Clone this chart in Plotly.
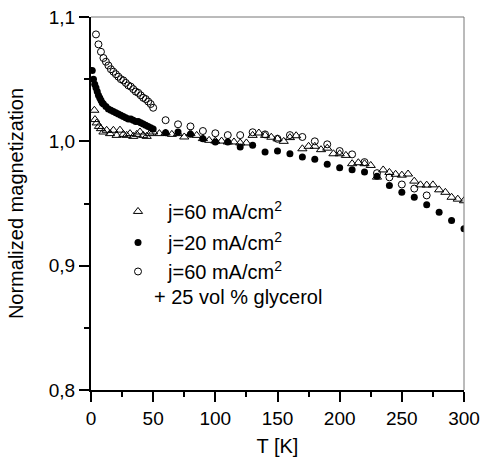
import plotly.graph_objects as go

# j=60 mA/cm2 (open triangles)
t_tri = [2.7, 3.2, 4.6, 6.4, 8, 10, 12.6, 15.3, 18, 20.6, 23.3, 26, 28.7, 31.4, 34, 36.8, 39.4, 42, 44.8, 47.4,
         50, 55, 60, 65, 70, 75, 80, 85, 90, 95, 100, 105, 110, 115, 120, 125, 130, 135, 140, 145, 150, 155,
         160, 165, 170, 175, 180, 185, 190, 195, 200, 205, 210, 215, 220, 225, 230, 235, 240, 245, 250, 255,
         260, 265, 270, 275, 280, 285, 290, 295, 300]
m_tri = [1.025, 1.0175, 1.0148, 1.012, 1.0102, 1.0075, 1.0089, 1.0062, 1.0089, 1.0048, 1.009, 1.0056, 1.0048,
         1.0062, 1.004, 1.0056, 1.0075, 1.0048, 1.004, 1.0062,
         1.0075, 1.0062, 1.0067, 1.0056, 1.0062, 1.0035, 1.0062, 1.0048, 1.0022, 1.0008, 1.0002, 1.0002, 0.9995,
         0.9995, 0.9987, 0.9987, 1.0048, 1.0067, 1.0048, 1.0033, 1.002, 1.000, 1.003, 1.0045, 0.994, 0.996,
         0.996, 0.9933, 0.9945, 0.990, 0.990, 0.9887, 0.982, 0.9828, 0.982, 0.9806, 0.9712, 0.977, 0.975,
         0.9735, 0.9728, 0.9737, 0.968, 0.965, 0.9648, 0.965, 0.961, 0.959, 0.955, 0.9535, 0.9522]

# j=20 mA/cm2 (filled circles)
t_fill = [1, 2, 3, 4, 5, 6, 7, 8, 9, 10, 12, 14, 16, 18, 20, 22, 24, 26, 28, 30, 32, 34, 36, 38, 40, 42, 44, 46,
          48, 50, 60, 70, 80, 90, 100, 110, 120, 130, 140, 150, 160, 170, 180, 190, 200, 210, 220, 230, 240,
          250, 260, 270, 280, 290, 300]
m_fill = [1.057, 1.050, 1.046, 1.043, 1.040, 1.037, 1.035, 1.033, 1.031, 1.030, 1.028, 1.026, 1.025, 1.024,
          1.023, 1.022, 1.021, 1.020, 1.019, 1.018, 1.018, 1.017, 1.016, 1.016, 1.015, 1.014, 1.013, 1.012,
          1.011, 1.010, 1.007, 1.0075, 1.0056, 1.002, 0.9995, 0.9995, 0.9954, 0.9968, 0.9914, 0.9922, 0.990,
          0.9873, 0.9855, 0.9815, 0.9788, 0.9772, 0.9753, 0.972, 0.9645, 0.9591, 0.9551, 0.949, 0.943,
          0.9363, 0.9296]

# j=60 mA/cm2 + 25 vol % glycerol (open circles)
t_open = [4, 6, 8, 10, 12, 14, 16, 18, 20, 22, 24, 26, 28, 30, 32, 34, 36, 38, 40, 42, 44, 46, 48, 50,
          60, 70, 80, 90, 100, 110, 120, 130, 140, 150, 160, 170, 180, 190, 200, 210, 220, 230, 240, 250,
          260, 270]
m_open = [1.086, 1.078, 1.072, 1.067, 1.064, 1.061, 1.058, 1.056, 1.054, 1.052, 1.050, 1.049, 1.047, 1.045,
          1.044, 1.042, 1.040, 1.039, 1.037, 1.035, 1.034, 1.032, 1.030, 1.027,
          1.017, 1.0137, 1.012, 1.0083, 1.0065, 1.005, 1.005, 1.0073, 1.0056, 1.002, 1.005, 1.0035, 1.000,
          0.9976, 0.9922, 0.9895, 0.9833, 0.9744, 0.971, 0.9653, 0.962, 0.9565]

names = ["j=60 mA/cm<sup>2</sup>", "j=20 mA/cm<sup>2</sup>", "j=60 mA/cm<sup>2</sup>"]
extra_line = "+ 25 vol % glycerol"
x_ticks = [0, 50, 100, 150, 200, 250, 300]
y_ticks = [0.8, 0.9, 1.0, 1.1]

FONT = "Liberation Sans, Arial, Helvetica, sans-serif"

fig = go.Figure()
fig.add_trace(go.Scatter(x=t_tri, y=m_tri, mode="markers", name=names[0], legend="legend",
                         marker=dict(symbol="triangle-up-open", size=8, color="black", line=dict(width=1))))
fig.add_trace(go.Scatter(x=t_fill, y=m_fill, mode="markers", name=names[1], legend="legend2",
                         marker=dict(symbol="circle", size=7, color="black")))
fig.add_trace(go.Scatter(x=t_open, y=m_open, mode="markers", name=names[2], legend="legend3",
                         marker=dict(symbol="circle-open", size=7, color="black", line=dict(width=1))))

axis_common = dict(
    showline=True, linecolor="black", linewidth=2, mirror=False,
    ticks="outside", ticklen=10, tickwidth=2, tickcolor="black",
    showgrid=False, zeroline=False, automargin=False,
    tickfont=dict(family=FONT, size=19, color="black"),
)

fig.update_xaxes(range=[0, 300], tickvals=x_ticks, **axis_common,
                 minor=dict(dtick=25, ticks="outside", ticklen=5, tickwidth=2, tickcolor="black"),
                 title=dict(text="T [K]", font=dict(family=FONT, size=20, color="black"), standoff=11))
fig.update_yaxes(range=[0.8, 1.1], tickvals=y_ticks, tickformat=".1f", **axis_common,
                 minor=dict(dtick=0.05, ticks="outside", ticklen=5, tickwidth=2, tickcolor="black"),
                 title=dict(text="Normalized magnetization", font=dict(family=FONT, size=20, color="black"),
                            standoff=20))

# thin gray frame on top and right
fig.add_shape(type="line", xref="paper", yref="paper", x0=0, x1=1, y0=1, y1=1,
              line=dict(color="#777777", width=1))
fig.add_shape(type="line", xref="paper", yref="paper", x0=1, x1=1, y0=0, y1=1,
              line=dict(color="#777777", width=1))

fig.add_annotation(x=0.1635, y=0.249, xref="paper", yref="paper", xanchor="left", yanchor="middle",
                   text=extra_line, showarrow=False, font=dict(family=FONT, size=20, color="black"))

leg_common = dict(xanchor="left", yanchor="top", bgcolor="rgba(0,0,0,0)", borderwidth=0,
                  font=dict(family=FONT, size=20, color="black"), itemwidth=50)

fig.update_layout(
    width=482, height=468,
    margin=dict(l=91, r=18, t=17, b=78),
    paper_bgcolor="white", plot_bgcolor="white",
    separators=", ",
    font=dict(family=FONT, size=20, color="black"),
    showlegend=True,
    legend=dict(x=0.0456, y=0.531, **leg_common),
    legend2=dict(x=0.0456, y=0.4476, **leg_common),
    legend3=dict(x=0.0456, y=0.370, **leg_common),
)

fig.write_html("out.html")
